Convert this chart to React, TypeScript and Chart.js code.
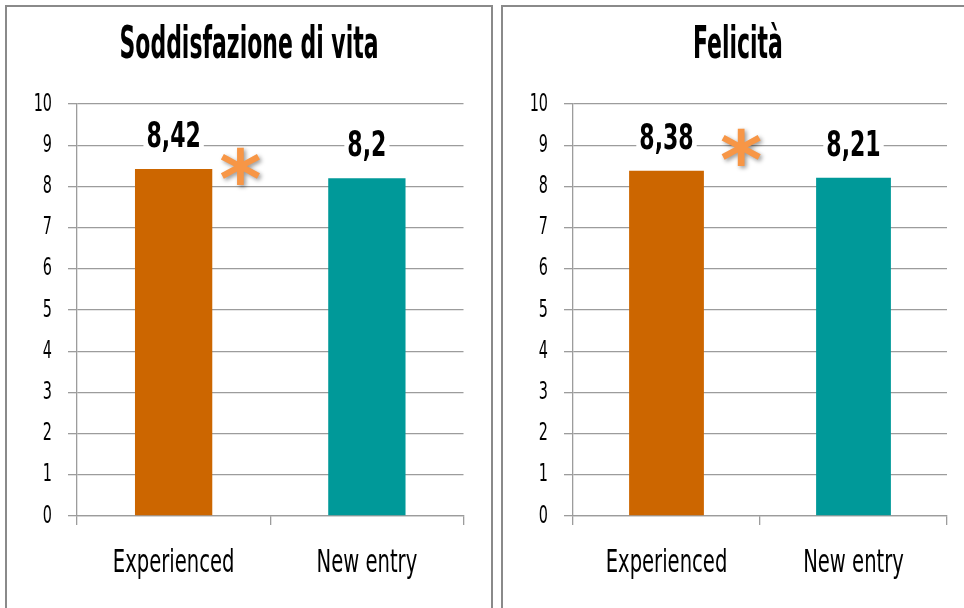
import React, { useEffect, useRef } from 'react';
import { Chart, registerables } from 'chart.js';

Chart.register(...registerables);

// ---- data ----
const categories = ['Experienced', 'New entry'];
const lifeSatisfaction = [8.42, 8.2];
const happiness = [8.38, 8.21];
const barColors = ['#CC6600', '#009999'];
const panelTitles = ['Soddisfazione di vita', 'Felicità'];
const yMin = 0;
const yMax = 10;
const yStep = 1;

const FONT = "'DejaVu Sans Condensed', 'DejaVu Sans', sans-serif";
const GRID = '#9c9c9c';
const STAR = '#F79646';

// font size (px) -> horizontal condensing factor (imitates a narrow display face)
const TITLE_SIZE = 44;
const XTICK_SIZE = 32;
const YTICK_SIZE = 25;
const LABEL_SIZE = 35;
const CONDENSE: Record<number, number> = {
  [TITLE_SIZE]: 0.555,
  [XTICK_SIZE]: 0.68,
  [YTICK_SIZE]: 0.64,
  [LABEL_SIZE]: 0.7,
};

const fmt = (v: number) => String(v).replace('.', ',');

const condensePlugin = {
  id: 'condense',
  beforeDraw(chart: any) {
    const ctx = chart.ctx as any;
    if (ctx.__origFillText) return;
    const orig = ctx.fillText;
    ctx.__origFillText = orig;
    ctx.fillText = function (text: string, x: number, y: number, maxWidth?: number) {
      const m = /(\d+(?:\.\d+)?)px/.exec(this.font);
      const size = m ? Math.round(parseFloat(m[1]) * 100) / 100 : 0;
      const s = CONDENSE[size];
      if (!s) {
        if (maxWidth === undefined) return orig.call(this, text, x, y);
        return orig.call(this, text, x, y, maxWidth);
      }
      this.save();
      this.translate(x, y);
      this.scale(s, 1);
      orig.call(this, text, 0, 0);
      this.restore();
    };
  },
  afterDraw(chart: any) {
    const ctx = chart.ctx as any;
    if (ctx.__origFillText) {
      ctx.fillText = ctx.__origFillText;
      delete ctx.__origFillText;
    }
  },
};

const labelPlugin = {
  id: 'barLabels',
  afterDatasetsDraw(chart: any, _args: any, opts: any) {
    const ctx = chart.ctx;
    const meta = chart.getDatasetMeta(0);
    const data = chart.data.datasets[0].data as number[];
    ctx.save();
    ctx.font = `bold ${LABEL_SIZE}px ${FONT}`;
    ctx.textAlign = 'center';
    ctx.textBaseline = 'alphabetic';
    const s = CONDENSE[LABEL_SIZE];
    meta.data.forEach((bar: any, i: number) => {
      const text = fmt(data[i]);
      const y = bar.y - opts.labelGap;
      const m = ctx.measureText(text);
      const w = m.width * s;
      const asc = m.actualBoundingBoxAscent;
      const desc = m.actualBoundingBoxDescent;
      ctx.fillStyle = '#ffffff';
      ctx.fillRect(bar.x - w / 2 - 3, y - asc - 3, w + 6, asc + desc + 6);
      ctx.fillStyle = '#000000';
      ctx.fillText(text, bar.x, y);
    });

    // significance asterisk
    const ref = meta.data[0];
    const cx = ref.x + ref.width / 2 + opts.starDx;
    const cy = ref.y - opts.starDy;
    const starFont = "'DejaVu Sans', sans-serif";
    ctx.textAlign = 'left';
    ctx.textBaseline = 'alphabetic';
    ctx.font = `bold 100px ${starFont}`;
    let m = ctx.measureText('*');
    const h100 = m.actualBoundingBoxAscent + m.actualBoundingBoxDescent;
    const size = (100 * opts.starSize) / h100 + 0.013;
    ctx.font = `bold ${size}px ${starFont}`;
    m = ctx.measureText('*');
    const x = cx - (m.actualBoundingBoxRight - m.actualBoundingBoxLeft) / 2;
    const y = cy + (m.actualBoundingBoxAscent - m.actualBoundingBoxDescent) / 2;
    ctx.shadowColor = 'rgba(0,0,0,0.4)';
    ctx.shadowBlur = 4;
    ctx.shadowOffsetX = 2;
    ctx.shadowOffsetY = 2;
    ctx.fillStyle = STAR;
    ctx.fillText('*', x, y);
    ctx.restore();
  },
};

type PanelProps = {
  title: string;
  values: number[];
  width: number;
  height: number;
  rightGap: number;
  starDx: number;
  starDy: number;
};

function Panel({ title, values, width, height, rightGap, starDx, starDy }: PanelProps) {
  const ref = useRef<HTMLCanvasElement | null>(null);
  useEffect(() => {
    if (!ref.current) return;
    const chart = new Chart(ref.current, {
      type: 'bar',
      data: {
        labels: categories,
        datasets: [
          {
            data: values,
            backgroundColor: barColors,
            borderWidth: 0,
            barPercentage: 0.4,
            categoryPercentage: 1,
          },
        ],
      },
      options: {
        animation: false,
        responsive: false,
        maintainAspectRatio: false,
        layout: { padding: { left: 0, right: 0, top: 0, bottom: 9.6 } },
        plugins: {
          legend: { display: false },
          tooltip: { enabled: false },
          title: {
            display: true,
            text: title,
            color: '#000',
            font: { family: FONT, size: TITLE_SIZE, weight: 'bold' },
            padding: { top: 13.1, bottom: 31.1 },
          },
          // @ts-ignore
          barLabels: { labelGap: 22, starDx, starDy, starSize: 38 },
        },
        scales: {
          x: {
            grid: {
              display: true,
              drawOnChartArea: false,
              drawTicks: true,
              tickLength: 9,
              color: GRID,
              lineWidth: 1.3,
            },
            border: { color: GRID, width: 1.3 },
            ticks: { color: '#000', font: { family: FONT, size: XTICK_SIZE }, padding: 19, maxRotation: 0 },
          },
          y: {
            min: yMin,
            max: yMax,
            ticks: { stepSize: yStep, color: '#000', font: { family: FONT, size: YTICK_SIZE }, padding: 16 },
            grid: { color: GRID, lineWidth: 1.3, tickLength: 9 },
            border: { color: GRID, width: 1.3 },
            afterFit: (s: any) => {
              s.width = 70;
            },
          },
          gap: {
            type: 'linear',
            axis: 'y',
            position: 'right',
            display: true,
            grid: { display: false },
            border: { display: false },
            ticks: { display: false },
            afterFit: (s: any) => {
              s.width = rightGap;
            },
          },
        },
      },
      plugins: [condensePlugin, labelPlugin],
    } as any);
    return () => chart.destroy();
  }, [title, values, width, height, rightGap, starDx, starDy]);
  return <canvas ref={ref} width={width} height={height} style={{ width, height, display: 'block' }} />;
}

export default function App() {
  return (
    <div
      style={{
        position: 'fixed',
        left: 0,
        top: 0,
        width: 964,
        height: 608,
        overflow: 'hidden',
        background: '#fff',
      }}
    >
      <div
        style={{
          position: 'absolute',
          left: 5,
          top: 5,
          width: 484,
          height: 604,
          border: '2px solid #8a8a8a',
          background: '#fff',
        }}
      >
        <Panel title={panelTitles[0]} values={lifeSatisfaction} width={484} height={604} rightGap={27.5} starDx={28} starDy={3} />
      </div>
      <div
        style={{
          position: 'absolute',
          left: 501,
          top: 5,
          width: 470,
          height: 604,
          border: '2px solid #8a8a8a',
          background: '#fff',
        }}
      >
        <Panel title={panelTitles[1]} values={happiness} width={470} height={604} rightGap={26} starDx={37} starDy={24} />
      </div>
    </div>
  );
}
